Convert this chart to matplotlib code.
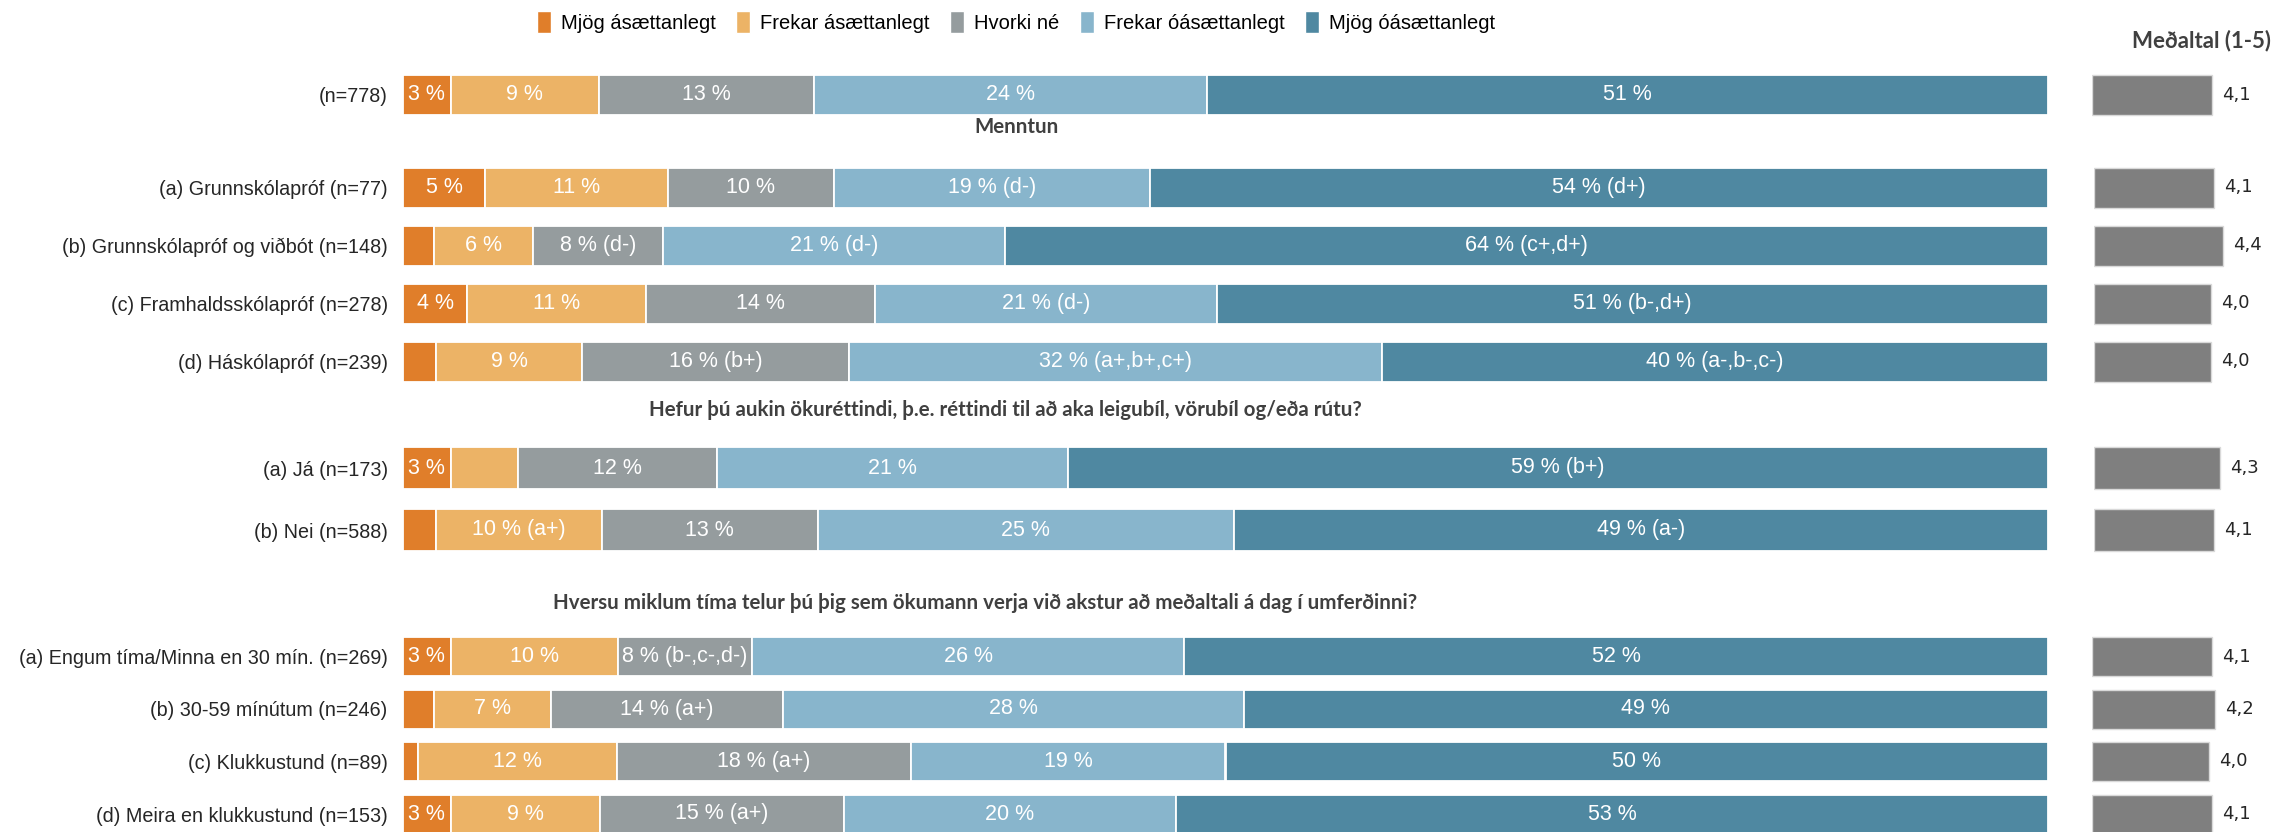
import numpy as np
import matplotlib
matplotlib.use("Agg")
import matplotlib.pyplot as plt
from matplotlib import font_manager
from matplotlib.patches import Patch

W, H = 2281, 832

categories = ["Mjög ásættanlegt", "Frekar ásættanlegt", "Hvorki né",
              "Frekar óásættanlegt", "Mjög óásættanlegt"]
colors = ["#E07E2A", "#ECB366", "#959C9E", "#88B5CC", "#4F88A1"]

# heild
rows_all = ["(n=778)"]
pct_all = [[2.9, 9.0, 13.1, 23.9, 51.1]]
txt_all = [["3 %", "9 %", "13 %", "24 %", "51 %"]]
mean_all = [4.1]

# menntun
rows_edu = ["(a) Grunnskólapróf (n=77)", "(b) Grunnskólapróf og viðbót (n=148)",
            "(c) Framhaldsskólapróf (n=278)", "(d) Háskólapróf (n=239)"]
pct_edu = [[5.0, 11.1, 10.1, 19.2, 54.6],
           [1.9, 6.0, 7.9, 20.8, 63.4],
           [3.9, 10.9, 13.9, 20.8, 50.5],
           [2.0, 8.9, 16.2, 32.4, 40.5]]
txt_edu = [["5 %", "11 %", "10 %", "19 % (d-)", "54 % (d+)"],
           ["", "6 %", "8 % (d-)", "21 % (d-)", "64 % (c+,d+)"],
           ["4 %", "11 %", "14 %", "21 % (d-)", "51 % (b-,d+)"],
           ["", "9 %", "16 % (b+)", "32 % (a+,b+,c+)", "40 % (a-,b-,c-)"]]
mean_edu = [4.1, 4.4, 4.0, 4.0]

# aukin ökuréttindi
rows_lic = ["(a) Já (n=173)", "(b) Nei (n=588)"]
pct_lic = [[2.9, 4.1, 12.1, 21.3, 59.6],
           [2.0, 10.1, 13.1, 25.3, 49.5]]
txt_lic = [["3 %", "", "12 %", "21 %", "59 % (b+)"],
           ["", "10 % (a+)", "13 %", "25 %", "49 % (a-)"]]
mean_lic = [4.3, 4.1]

# tími í umferðinni
rows_time = ["(a) Engum tíma/Minna en 30 mín. (n=269)", "(b) 30-59 mínútum (n=246)",
             "(c) Klukkustund (n=89)", "(d) Meira en klukkustund (n=153)"]
pct_time = [[2.9, 10.2, 8.1, 26.3, 52.5],
            [1.9, 7.1, 14.1, 28.0, 48.9],
            [0.9, 12.1, 17.9, 19.1, 50.0],
            [2.9, 9.1, 14.8, 20.2, 53.0]]
txt_time = [["3 %", "10 %", "8 % (b-,c-,d-)", "26 %", "52 %"],
            ["", "7 %", "14 % (a+)", "28 %", "49 %"],
            ["", "12 %", "18 % (a+)", "19 %", "50 %"],
            ["3 %", "9 %", "15 % (a+)", "20 %", "53 %"]]
mean_time = [4.1, 4.2, 4.0, 4.1]

titles = [None, "Menntun",
          "Hefur þú aukin ökuréttindi, þ.e. réttindi til að aka leigubíl, vörubíl og/eða rútu?",
          "Hversu miklum tíma telur þú þig sem ökumann verja við akstur að meðaltali á dag í umferðinni?"]

names = {f.name for f in font_manager.fontManager.ttflist}
NARROW = "Liberation Sans Narrow" if "Liberation Sans Narrow" in names else "Liberation Sans"
BOLD = "Lato"

# layout in pixels: first row centre, row spacing, bar height, title (x, y), mean bar left
layout = [
    (95, 58, 40, None, 2092),
    (187.5, 58, 40, (1016, 127), 2094),
    (468, 62, 42, (1005, 410), 2094),
    (656.5, 52.5, 39, (985, 603), 2092),
]
BAR_X0, BAR_X1 = 403, 2048
MEAN_PX = 29.3  # pixels per unit on the mean scale

fig = plt.figure(figsize=(W / 100, H / 100), dpi=100)


def px_axes(x0, x1, y0, y1):
    return fig.add_axes([x0 / W, 1 - y1 / H, (x1 - x0) / W, (y1 - y0) / H])


groups = [(rows_all, pct_all, txt_all, mean_all),
          (rows_edu, pct_edu, txt_edu, mean_edu),
          (rows_lic, pct_lic, txt_lic, mean_lic),
          (rows_time, pct_time, txt_time, mean_time)]

for (rows, pct, txt, means), (c0, sp, bh, tpos, mleft), title in zip(groups, layout, titles):
    n = len(rows)
    y0 = c0 - sp / 2
    y1 = c0 + (n - 1) * sp + sp / 2
    ax = px_axes(BAR_X0, BAR_X1, y0, y1)
    vals = np.array(pct)
    y = np.arange(n)
    left = np.zeros(n)
    for k in range(5):
        ax.barh(y, vals[:, k], left=left, height=bh / sp, color=colors[k],
                edgecolor="white", linewidth=1.3)
        for i in range(n):
            if txt[i][k]:
                ax.text(left[i] + vals[i, k] / 2, y[i], txt[i][k], ha="center",
                        va="center", color="white", fontsize=15.5, family=NARROW)
        left += vals[:, k]
    ax.set_xlim(0, 100)
    ax.set_ylim(n - 0.5, -0.5)
    ax.set_yticks(y)
    ax.set_yticklabels(rows, fontsize=14.2, family=NARROW, color="#262626")
    ax.tick_params(axis="y", length=0, pad=11)
    ax.set_xticks([])
    for s in ax.spines.values():
        s.set_visible(False)
    ax.patch.set_alpha(0)

    mx = px_axes(mleft, mleft + 6.2 * MEAN_PX, y0, y1)
    mx.barh(y, means, height=bh / sp, color="#7F7F7F", edgecolor="#D9D9D9", linewidth=1)
    for i in range(n):
        mx.text(means[i] + 0.33, y[i], f"{means[i]:.1f}".replace(".", ","),
                va="center", ha="left", fontsize=13, color="#262626",
                family="DejaVu Sans")
    mx.set_xlim(0, 6.2)
    mx.set_ylim(n - 0.5, -0.5)
    mx.axis("off")

    if title:
        fig.text(tpos[0] / W, 1 - tpos[1] / H, title, ha="center", va="center",
                 fontsize=14.8, fontweight="bold", color="#404040", family=BOLD)

fig.text(2201 / W, 1 - 41 / H, "Meðaltal (1-5)", ha="center", va="center",
         fontsize=16, fontweight="bold", color="#404040", family=BOLD)

handles = [Patch(facecolor=c, edgecolor="white") for c in colors]
fig.legend(handles, categories, loc="center", bbox_to_anchor=(1016 / W, 1 - 22 / H),
           ncol=5, frameon=False, handlelength=0.7, handleheight=1.3,
           handletextpad=0.5, columnspacing=1.0,
           prop={"family": NARROW, "size": 14.5})

fig.savefig("out.png", dpi=100)
